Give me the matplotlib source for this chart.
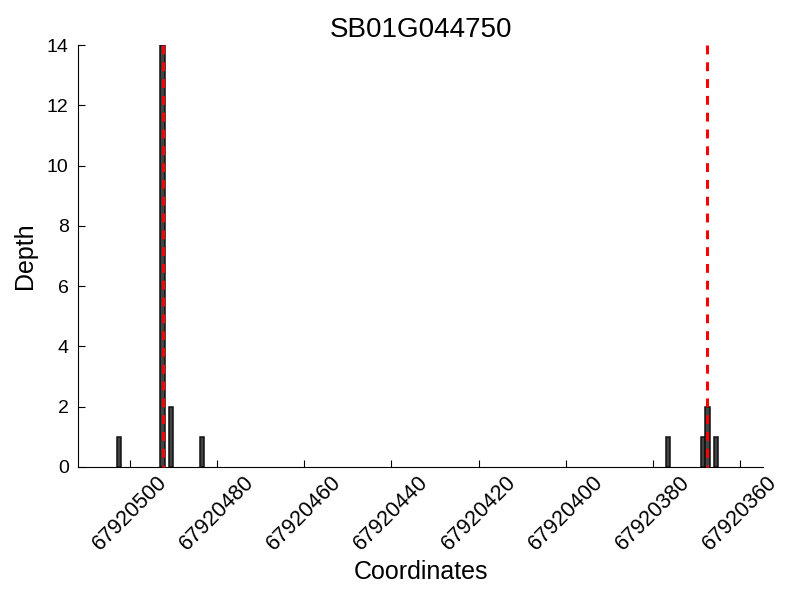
import matplotlib
matplotlib.use("Agg")
import matplotlib.pyplot as plt

plt.rcParams['font.family'] = ['Liberation Sans', 'DejaVu Sans']

title = "SB01G044750"
positions = [67920502, 67920492, 67920490, 67920483, 67920376, 67920368, 67920367, 67920365]
depths = [1, 14, 2, 1, 1, 1, 2, 1]
markers = [67920492.5, 67920367.5]
xticks = [67920500, 67920480, 67920460, 67920440, 67920420, 67920400, 67920380, 67920360]
yticks = [0, 2, 4, 6, 8, 10, 12, 14]

fig = plt.figure(figsize=(8, 6), dpi=100)
ax = fig.add_axes([0.098, 0.2217, 0.8553, 0.7033])

ax.bar(positions, depths, width=1, align='edge', color='#444444', edgecolor='#111111', linewidth=1.1, zorder=2)
ax.set_ylim(0, 14)
ytop = ax.get_ylim()[1]
for m in markers:
    ax.plot([m, m], [ytop, 0], color='red', linestyle=(0, (2.9, 2.6)), linewidth=2.2, zorder=3, clip_on=False)

ax.set_xlim(67920511.8, 67920354.85)
ax.set_xticks(xticks)
ax.set_xticklabels([str(t) for t in xticks], rotation=45, ha='center', fontsize=15.5)
ax.set_yticks(yticks)
ax.set_yticklabels([str(t) for t in yticks], fontsize=14)
ax.tick_params(direction='in', length=5, top=False, right=False)
ax.tick_params(axis='y', pad=7)
for s in ['top', 'right']:
    ax.spines[s].set_visible(False)
ax.set_xlabel("Coordinates", fontsize=18)
ax.set_ylabel("Depth", fontsize=18, labelpad=7)
ax.set_title(title, fontsize=20)

fig.savefig("out.png", dpi=100)
